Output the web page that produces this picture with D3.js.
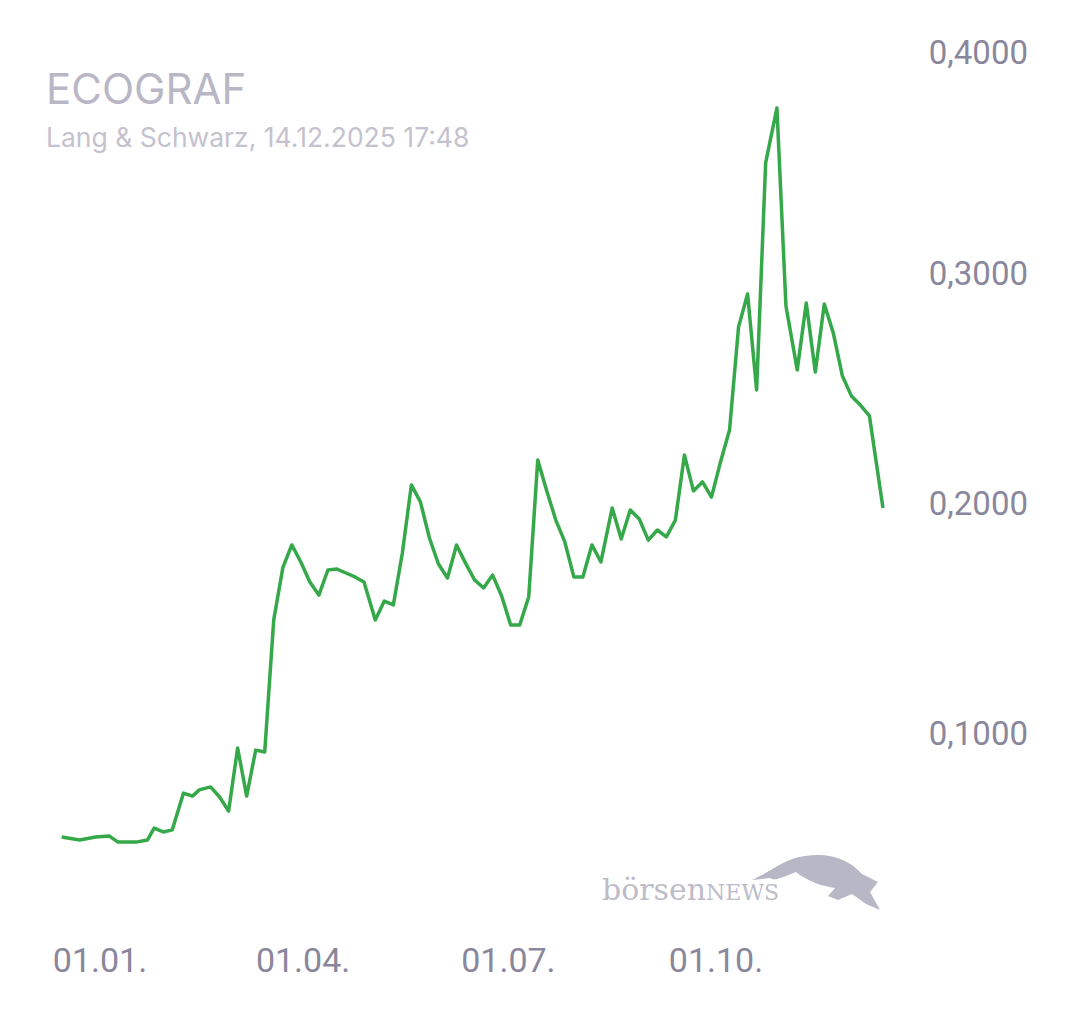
<!DOCTYPE html>
<html><head><meta charset="utf-8">
<script src="https://cdn.jsdelivr.net/npm/d3@7"></script>
<style>body{margin:0;background:#fff}</style>
</head><body>
<svg id="chart" width="1080" height="1013"></svg>
<script>
// days since 01.01.2025 and price in EUR
const dayOffsets = [-17,-9,-2,4,8,16,21,24,28,32,37,41,44,49,53,57,61,65,69,73,77,81,85,89,93,97,101,105,109,113,117,122,126,130,134,138,142,146,150,154,158,162,166,170,174,178,182,186,190,194,198,202,206,210,214,218,222,227,231,235,239,243,247,251,255,259,263,267,271,275,279,283,287,291,295,300,304,309,313,317,321,325,329,333,337,341,347];
const prices = [.0552,.0539,.0552,.0557,.0530,.0530,.0539,.0591,.0574,.0583,.0743,.0730,.0757,.0770,.0726,.0665,.0939,.0730,.0930,.0922,.1496,.1722,.1822,.1748,.1661,.1604,.1713,.1717,.1700,.1683,.1661,.1496,.1578,.1561,.1787,.2083,.2009,.1852,.1739,.1678,.1822,.1743,.1670,.1635,.1691,.1600,.1474,.1474,.1596,.2191,.2057,.1930,.1835,.1683,.1683,.1822,.1748,.1983,.1848,.1974,.1935,.1843,.1887,.1857,.1930,.2213,.2057,.2096,.2030,.2183,.2322,.2770,.2913,.2496,.3483,.3722,.2861,.2583,.2874,.2574,.2870,.2743,.2557,.2470,.2430,.2383,.1983];
const yTicks = [0.1, 0.2, 0.3, 0.4];
const xTicks = ["2025-01-01","2025-04-01","2025-07-01","2025-10-01"];

const svg = d3.select("#chart");
const start = new Date(2025, 0, 1);
const data = dayOffsets.map((d, i) => ({date: d3.timeDay.offset(start, d), value: prices[i]}));

const x = d3.scaleTime().domain([new Date(2025,0,1), new Date(2025,9,1)]).range([100, 716]);
const y = d3.scaleLinear().domain([0.1, 0.2]).range([734, 504]);

const fmt = v => d3.format(".4f")(v).replace(".", ",");
const fmtDate = d3.timeFormat("%d.%m.");

// y labels
svg.append("g").selectAll("text").data(yTicks).enter().append("text")
  .attr("x", 1028).attr("y", d => Math.max(y(d), 53) + 11)
  .attr("text-anchor", "end").attr("font-family", "Roboto, sans-serif")
  .attr("font-size", 33).attr("fill", "#8a879c").text(fmt);

// x labels
svg.append("g").selectAll("text").data(xTicks).enter().append("text")
  .attr("x", d => x(new Date(d))).attr("y", 972)
  .attr("text-anchor", "middle").attr("font-family", "Roboto, sans-serif")
  .attr("font-size", 34).attr("fill", "#8a879c").text(d => fmtDate(new Date(d)));

// title
svg.append("text").attr("x", 46).attr("y", 104).attr("font-family", "Inter, sans-serif")
  .attr("font-size", 42).attr("fill", "#b9b7c5").text("ECOGRAF");
svg.append("text").attr("x", 46).attr("y", 147).attr("font-family", "Inter, sans-serif")
  .attr("font-size", 26.5).attr("fill", "#c4c2ce").text("Lang & Schwarz, 14.12.2025 17:48");

// logo
svg.append("text").attr("x", 602).attr("y", 900).attr("font-family", "DejaVu Serif, serif")
  .attr("font-size", 30).attr("fill", "#bdbcc8").text("börsen")
  .append("tspan").attr("font-size", 22).text("NEWS");
svg.append("path")
  .attr("d", "M752,880 C770,872 785,858 805,856 C830,852 850,860 862,874 L878,882 L870,892 L880,910 L866,904 L852,894 L838,900 L828,896 L835,888 C820,886 806,880 796,872 C785,876 775,882 770,878 Z")
  .attr("fill", "#b8b7c6");

// line
svg.append("path").datum(data)
  .attr("fill", "none").attr("stroke", "#35a84a").attr("stroke-width", 3.5)
  .attr("stroke-linejoin", "round")
  .attr("d", d3.line().x(d => x(d.date)).y(d => y(d.value)));
</script>
</body></html>
